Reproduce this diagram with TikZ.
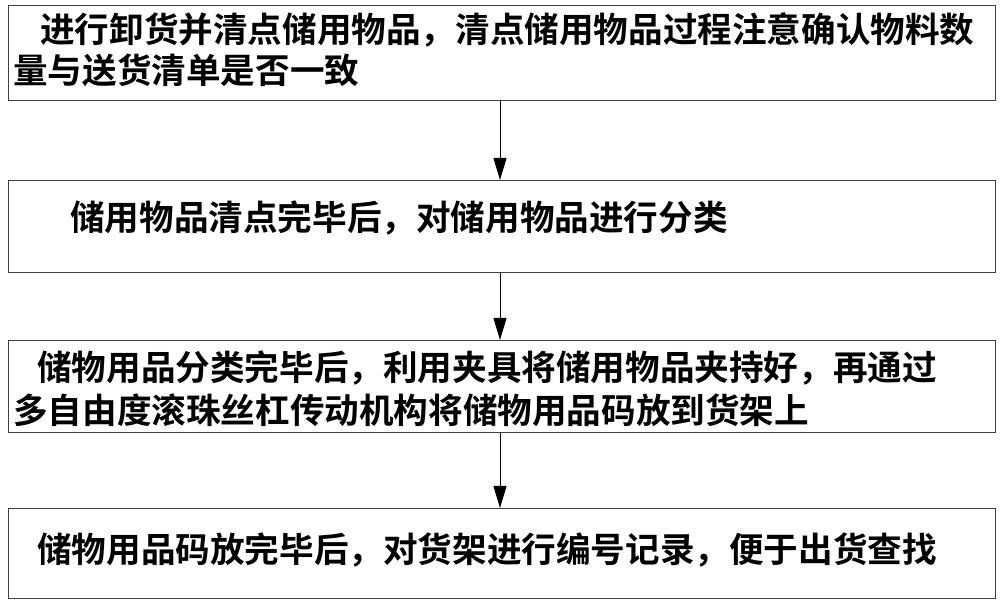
\documentclass[tikz,border=0pt]{standalone}
\usepackage{fontspec}
\newfontfamily\cjk{Noto Sans CJK SC Bold}
\usetikzlibrary{arrows.meta}
\begin{document}
\begin{tikzpicture}[x=1pt,y=1pt,
  box/.style={draw=black!75,line width=1pt,minimum width=987pt,anchor=north west,inner sep=0pt},
  txt/.style={anchor=west,inner sep=0pt,font=\cjk\fontsize{34.6}{40}\selectfont},
  arr/.style={-{Triangle[length=22pt,width=13pt]},line width=1pt}]
\useasboundingbox (0,0) rectangle (1000,604);
\node[box,minimum height=95pt] (b1) at (8,599) {};
\node[box,minimum height=92pt] (b2) at (8,424) {};
\node[box,minimum height=92pt] (b3) at (8,264) {};
\node[box,minimum height=90pt] (b4) at (8,96) {};
\node[txt] (t1) at (40,574) {进行卸货并清点储用物品，清点储用物品过程注意确认物料数};
\node[txt] (t1b) at (13,534) {量与送货清单是否一致};
\node[txt] (t2) at (70,386) {储用物品清点完毕后，对储用物品进行分类};
\node[txt] (t3) at (37,236) {储物用品分类完毕后，利用夹具将储用物品夹持好，再通过};
\node[txt] (t3b) at (13,194) {多自由度滚珠丝杠传动机构将储物用品码放到货架上};
\node[txt] (t4) at (37,54) {储物用品码放完毕后，对货架进行编号记录，便于出货查找};
\draw[arr] (b1.south -| 500,0) -- (b2.north -| 500,0);
\draw[arr] (b2.south -| 500,0) -- (b3.north -| 500,0);
\draw[arr] (b3.south -| 500,0) -- (b4.north -| 500,0);
\end{tikzpicture}
\end{document}
